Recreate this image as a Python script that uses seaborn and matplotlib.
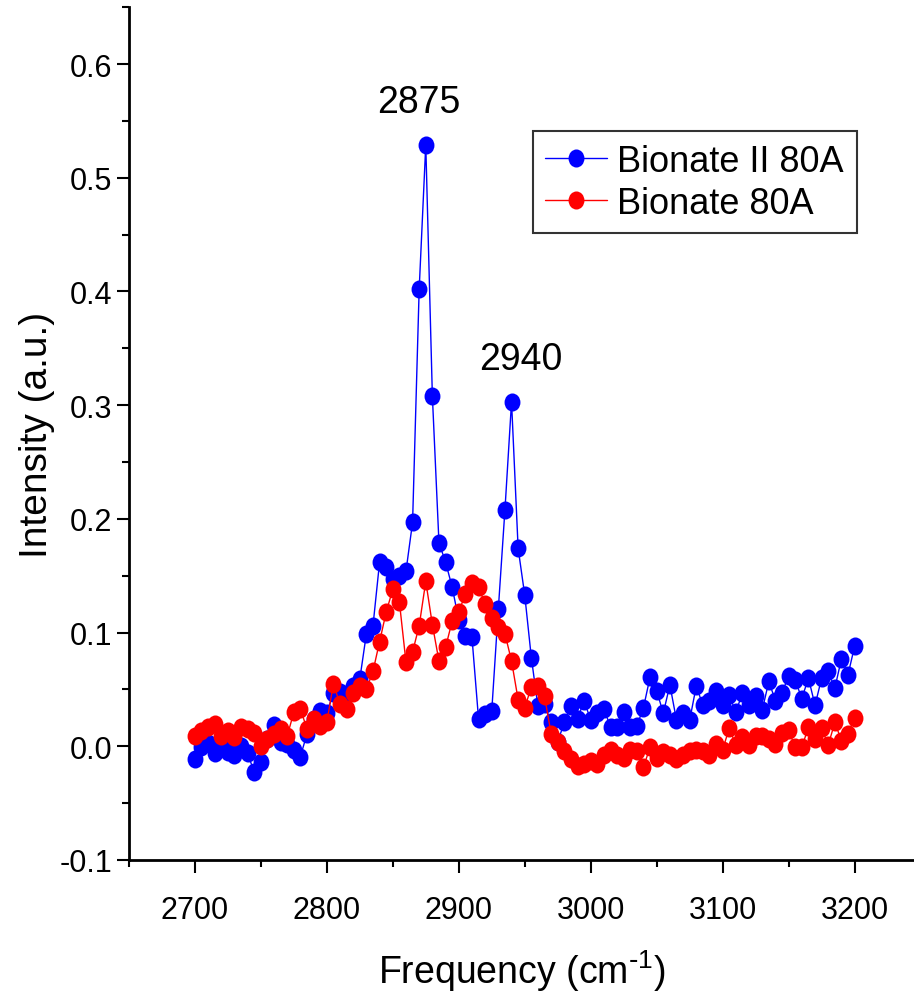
import numpy as np
import pandas as pd
import matplotlib
matplotlib.use("Agg")
import matplotlib.pyplot as plt
from matplotlib.markers import MarkerStyle
from matplotlib.transforms import Affine2D
from matplotlib.ticker import MultipleLocator
import seaborn as sns

# Raman spectra, C-H stretching region, sampled every 5 cm^-1
frequency = list(range(2700, 3201, 5))

bionate_ii_80a = [
    -0.011, -0.001, 0.003, -0.006, 0.004, -0.005, -0.008, 0.000, -0.006, -0.023,
    -0.014, 0.006, 0.019, 0.004, 0.002, -0.003, -0.009, 0.011, 0.024, 0.031,
    0.029, 0.047, 0.048, 0.046, 0.053, 0.059, 0.099, 0.106, 0.162, 0.158,
    0.147, 0.150, 0.154, 0.197, 0.402, 0.529, 0.308, 0.179, 0.162, 0.140,
    0.111, 0.097, 0.096, 0.024, 0.028, 0.031, 0.121, 0.208, 0.303, 0.174,
    0.133, 0.078, 0.035, 0.037, 0.021, 0.004, 0.021, 0.035, 0.024, 0.040,
    0.023, 0.029, 0.033, 0.017, 0.017, 0.030, 0.017, 0.018, 0.034, 0.061,
    0.049, 0.029, 0.054, 0.023, 0.029, 0.023, 0.053, 0.036, 0.040, 0.049,
    0.036, 0.045, 0.030, 0.047, 0.036, 0.044, 0.032, 0.057, 0.040, 0.047,
    0.062, 0.058, 0.042, 0.060, 0.036, 0.060, 0.066, 0.051, 0.077, 0.063,
    0.088,
]

bionate_80a = [
    0.009, 0.013, 0.017, 0.020, 0.009, 0.013, 0.008, 0.017, 0.015, 0.012,
    0.000, 0.006, 0.011, 0.015, 0.009, 0.030, 0.033, 0.015, 0.024, 0.018,
    0.021, 0.055, 0.037, 0.033, 0.047, 0.053, 0.050, 0.066, 0.092, 0.118,
    0.138, 0.127, 0.074, 0.083, 0.106, 0.145, 0.107, 0.075, 0.087, 0.110,
    0.118, 0.134, 0.144, 0.140, 0.125, 0.113, 0.105, 0.099, 0.075, 0.041,
    0.034, 0.052, 0.053, 0.044, 0.011, 0.004, -0.004, -0.011, -0.017, -0.016,
    -0.013, -0.016, -0.008, -0.003, -0.008, -0.010, -0.003, -0.004, -0.018, -0.001,
    -0.010, -0.005, -0.008, -0.011, -0.008, -0.004, -0.003, -0.004, -0.008, 0.002,
    -0.003, 0.016, 0.001, 0.008, 0.001, 0.009, 0.009, 0.006, 0.002, 0.012,
    0.014, -0.001, -0.001, 0.017, 0.006, 0.016, 0.001, 0.021, 0.005, 0.011,
    0.025,
]

series_names = ["Bionate II 80A", "Bionate 80A"]
series_colors = ["#0000FF", "#FF0000"]

peak_labels = ["2875", "2940"]
peak_freqs = [2875, 2940]

df = pd.concat([
    pd.DataFrame({"Frequency": frequency, "Intensity": bionate_ii_80a, "Sample": series_names[0]}),
    pd.DataFrame({"Frequency": frequency, "Intensity": bionate_80a, "Sample": series_names[1]}),
], ignore_index=True)

sns.set_theme(style="ticks")
plt.rcParams["font.family"] = ["Liberation Sans", "DejaVu Sans"]
plt.rcParams["text.color"] = "black"
plt.rcParams["axes.labelcolor"] = "black"
plt.rcParams["xtick.color"] = "black"
plt.rcParams["ytick.color"] = "black"
plt.rcParams["axes.unicode_minus"] = False

fig = plt.figure(figsize=(9.14, 9.95), dpi=100)
ax = fig.add_axes([0.141, 0.1347, 0.859, 0.857])

# slightly tall elliptical dots
dot = MarkerStyle("o", transform=Affine2D().scale(0.88, 1.0))

sns.lineplot(
    data=df, x="Frequency", y="Intensity", hue="Sample",
    hue_order=series_names, palette=series_colors,
    marker=dot, markersize=13, markeredgewidth=0, linewidth=1.0,
    sort=False, ax=ax, legend=True,
)

ax.set_xlim(2650, 3245)
ax.set_ylim(-0.1, 0.65)
ax.xaxis.set_minor_locator(MultipleLocator(50))
ax.yaxis.set_minor_locator(MultipleLocator(0.05))
yt = np.round(np.arange(-0.1, 0.61, 0.1), 1)
ax.set_yticks(yt)
ax.set_yticklabels([f"{v:.1f}" for v in yt])
ax.set_xticks(range(2700, 3201, 100))

for side in ("top", "right"):
    ax.spines[side].set_visible(False)
for side in ("left", "bottom"):
    ax.spines[side].set_linewidth(2.0)
    ax.spines[side].set_color("black")

ax.tick_params(axis="both", which="major", direction="out", length=9, width=1.5,
               labelsize=22)
ax.tick_params(axis="x", which="major", pad=16)
ax.tick_params(axis="y", which="major", pad=3)
ax.tick_params(axis="both", which="minor", direction="out", length=5, width=1.5)

ax.set_xlabel("Frequency (cm$^{\\text{-}\\mathregular{1}}$)", fontsize=27, labelpad=16)
ax.set_ylabel("Intensity (a.u.)", fontsize=28, labelpad=3)

# peak annotations
label_offsets = [-5, 7]
for lab, f, dx in zip(peak_labels, peak_freqs, label_offsets):
    yv = bionate_ii_80a[frequency.index(f)]
    ax.annotate(lab, xy=(f, yv), xytext=(f + dx, yv + 0.022),
                ha="center", va="bottom", fontsize=27, textcoords="data")

leg = ax.legend(title=None, loc="upper right", bbox_to_anchor=(0.927, 0.855),
                fontsize=26, frameon=True, fancybox=False, handlelength=1.7,
                borderpad=0.35, labelspacing=0.2, handletextpad=0.3,
                borderaxespad=0.0)
leg.get_frame().set_edgecolor("black")
leg.get_frame().set_linewidth(1.5)

fig.savefig("out.png", dpi=100)
